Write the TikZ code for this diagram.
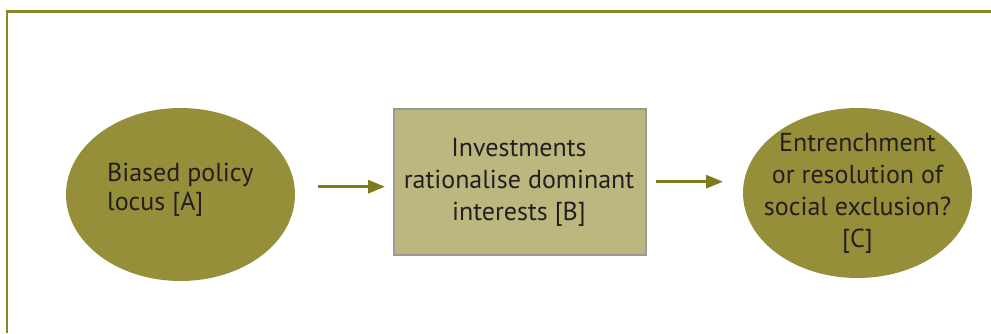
\documentclass[tikz,border=0pt]{standalone}
\usepackage{fontspec}
\setmainfont{PT Sans}
\usetikzlibrary{arrows.meta}
\definecolor{olive}{HTML}{8A8625}
\definecolor{ellfill}{HTML}{958F3A}
\definecolor{boxfill}{HTML}{BCB77F}
\definecolor{boxline}{HTML}{9A9A94}
\definecolor{arrowcol}{HTML}{7F7A1B}
\definecolor{txt}{HTML}{231F20}
\begin{document}
\begin{tikzpicture}[x=1pt,y=-1pt,
  txtstyle/.style={text=txt,inner sep=0pt,font=\fontsize{26}{32}\selectfont},
  flow/.style={draw=arrowcol,line width=3pt,-{Triangle[length=17pt,width=13pt]}}]
\useasboundingbox (0,0) rectangle (991,333);
\draw[olive,line width=2.5pt] (7.2,333) -- (7.2,11.5) -- (991,11.5);
\fill[ellfill] (180.5,194.5) ellipse [x radius=114.5, y radius=86.5];
\node[txtstyle,font=\fontsize{26}{28.5}\selectfont,align=left,anchor=base west] (a) at (107,210) {Biased policy\\locus [A]};
\node[draw=boxline,line width=1.5pt,fill=boxfill,minimum width=252pt,minimum height=146pt,inner sep=0pt] (b) at (520,182) {};
\node[txtstyle,align=center,anchor=base] (bt) at (519,220.7) {Investments\\rationalise dominant\\interests [B]};
\fill[ellfill] (857.5,193) ellipse [x radius=114.5, y radius=85];
\node[txtstyle,align=center,anchor=base] (c) at (857.5,247) {Entrenchment\\or resolution of\\social exclusion?\\{[C]}};
\coordinate (a1) at (318,186.7);
\coordinate (a2) at (385,186.7);
\coordinate (b1) at (656,181.7);
\coordinate (b2) at (723,181.7);
\draw[flow] (a1) -- (a2);
\draw[flow] (b1) -- (b2);
\end{tikzpicture}
\end{document}
